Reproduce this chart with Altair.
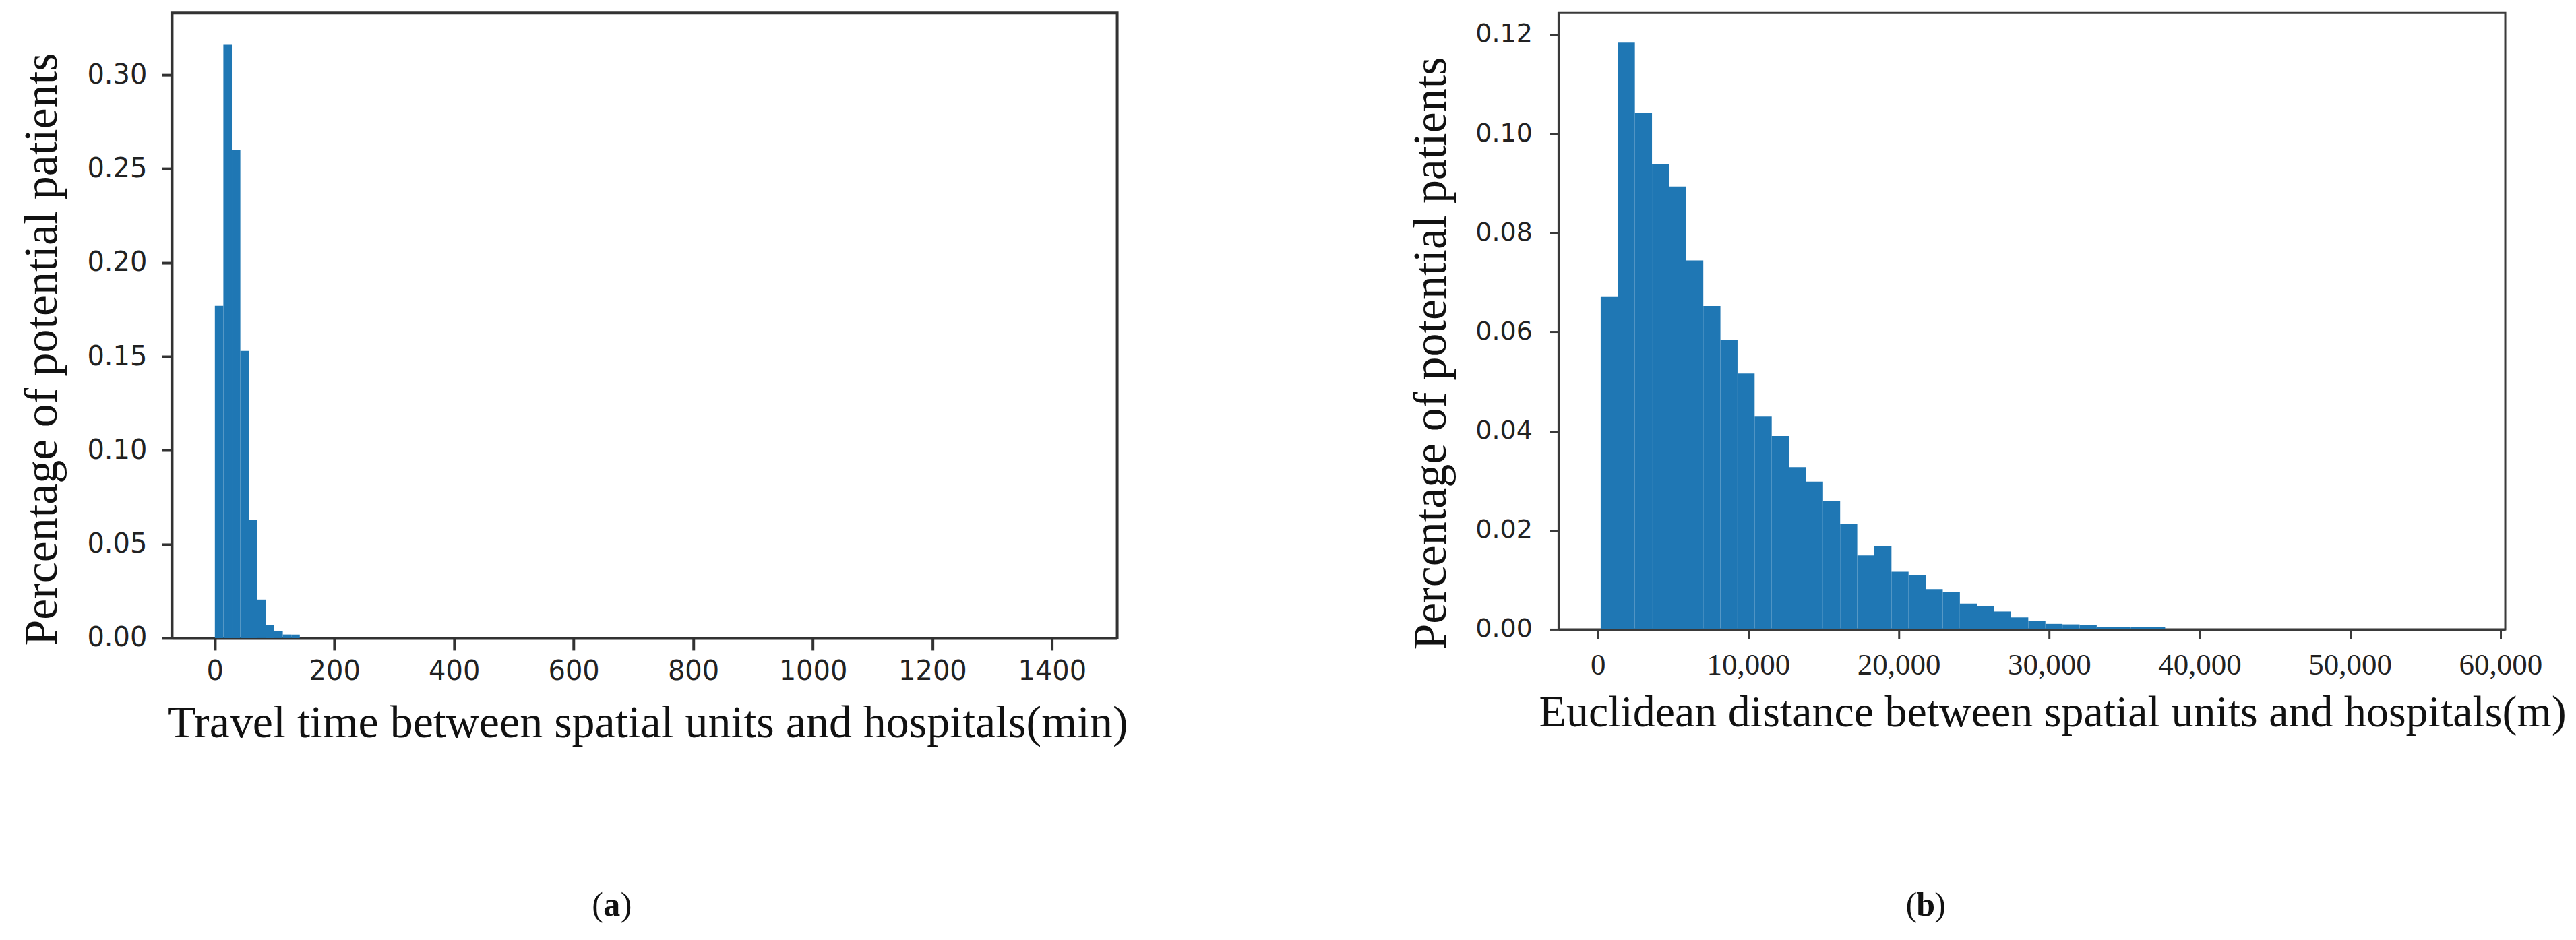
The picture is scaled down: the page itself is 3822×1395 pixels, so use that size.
import altair as alt
import pandas as pd

# ---------------- data ----------------
# (a) travel time histogram: bin edges (min) and share of potential patients
travel_edges = [0, 14.2, 28.4, 42.6, 56.8, 71.0, 85.2, 99.4, 113.6, 127.8, 142.0]
travel_share = [0.177, 0.316, 0.260, 0.153, 0.063, 0.0205, 0.0069, 0.0039, 0.0019, 0.0019]
travel_xticks = [0, 200, 400, 600, 800, 1000, 1200, 1400]
travel_yticks = [0.00, 0.05, 0.10, 0.15, 0.20, 0.25, 0.30]

# (b) euclidean distance histogram: bin edges (m) and share of potential patients
dist_edges = [190, 1327, 2464, 3601, 4738, 5875, 7012, 8149, 9286, 10423, 11560,
              12697, 13834, 14971, 16108, 17245, 18382, 19519, 20656, 21793, 22930,
              24067, 25204, 26341, 27478, 28615, 29752, 30889, 32026, 33163, 34300,
              35437, 36574, 37711]
dist_share = [0.0670, 0.1183, 0.1042, 0.0938, 0.0893, 0.0744, 0.0652, 0.0584, 0.0516,
              0.0429, 0.0390, 0.0327, 0.0298, 0.0259, 0.0212, 0.0149, 0.0167, 0.0116,
              0.0109, 0.0081, 0.0075, 0.0052, 0.0047, 0.0036, 0.0024, 0.0017, 0.0011,
              0.0010, 0.0009, 0.0005, 0.0005, 0.0004, 0.0004]
dist_xticks = [0, 10000, 20000, 30000, 40000, 50000, 60000]
dist_yticks = [0.00, 0.02, 0.04, 0.06, 0.08, 0.10, 0.12]

y_title = "Percentage of potential patients"
xa_title = "Travel time between spatial units and hospitals(min)"
xb_title = "Euclidean distance between spatial units and hospitals(m)"

# ---------------- styling ----------------
BLUE = "#1f77b4"
SERIF = "Liberation Serif"
SANS = "DejaVu Sans"
INK = "#111111"


def panel_label(letter, cx, cy):
    df = pd.DataFrame({"k": [0]})
    base = alt.Chart(df)
    lp = base.mark_text(text="(", align="right", baseline="middle", font=SERIF,
                        fontSize=50, color=INK).encode(x=alt.value(cx - 13), y=alt.value(cy))
    mid = base.mark_text(text=letter, align="center", baseline="middle", font=SERIF,
                         fontSize=50, fontWeight="bold", color=INK).encode(x=alt.value(cx), y=alt.value(cy))
    rp = base.mark_text(text=")", align="left", baseline="middle", font=SERIF,
                        fontSize=50, color=INK).encode(x=alt.value(cx + 13), y=alt.value(cy))
    return [lp, mid, rp]


# ---------------- panel (a) ----------------
df_a = pd.DataFrame({"start": travel_edges[:-1], "end": travel_edges[1:], "share": travel_share})
W_A, H_A = 1403, 928

bars_a = alt.Chart(df_a).mark_rect(color=BLUE).encode(
    x=alt.X("start:Q",
            scale=alt.Scale(domain=[-72, 1509], nice=False, zero=False),
            axis=alt.Axis(values=travel_xticks, format="d", title=xa_title, grid=False,
                          domainColor="#323232", domainWidth=4, tickColor="#323232",
                          tickWidth=4, tickSize=18, labelFont=SANS, labelFontSize=40,
                          labelColor="#222222", labelPadding=12, labelFlush=False,
                          titleFont=SERIF, titleFontSize=68, titleFontWeight="normal",
                          titleColor=INK, titlePadding=23, titleX=706)),
    x2="end:Q",
    y=alt.Y("share:Q",
            scale=alt.Scale(domain=[0, 0.333], nice=False, zero=True),
            axis=alt.Axis(values=travel_yticks, format=".2f", title=y_title, grid=False,
                          domainColor="#323232", domainWidth=4, tickColor="#323232",
                          tickWidth=4, tickSize=15, labelFont=SANS, labelFontSize=40,
                          labelColor="#222222", labelPadding=22, labelFlush=False,
                          titleFont=SERIF, titleFontSize=70, titleFontWeight="normal",
                          titleColor=INK, titlePadding=30, titleY=499)),
    y2=alt.datum(0),
)

left = alt.layer(bars_a, *panel_label("a", 653, 1325)).properties(
    width=W_A, height=H_A,
    view=alt.ViewBackground(stroke="#323232", strokeWidth=4),
)

# ---------------- panel (b) ----------------
df_b = pd.DataFrame({"start": dist_edges[:-1], "end": dist_edges[1:], "share": dist_share})
W_B, H_B = 1405, 915

bars_b = alt.Chart(df_b).mark_rect(color=BLUE).encode(
    x=alt.X("start:Q",
            scale=alt.Scale(domain=[-2611, 60320], nice=False, zero=False),
            axis=alt.Axis(values=dist_xticks, format=",d", title=xb_title, grid=False,
                          domainColor="#3a3a3a", domainWidth=3, tickColor="#3a3a3a",
                          tickWidth=3, tickSize=14, labelFont=SERIF, labelFontSize=45,
                          labelColor="#222222", labelPadding=17, labelFlush=False,
                          titleFont=SERIF, titleFontSize=66, titleFontWeight="normal",
                          titleColor=INK, titlePadding=16, titleX=733)),
    x2="end:Q",
    y=alt.Y("share:Q",
            scale=alt.Scale(domain=[0, 0.1243], nice=False, zero=True),
            axis=alt.Axis(values=dist_yticks, format=".2f", title=y_title, grid=False,
                          domainColor="#3a3a3a", domainWidth=3, tickColor="#3a3a3a",
                          tickWidth=3, tickSize=13, labelFont=SANS, labelFontSize=38,
                          labelColor="#222222", labelPadding=26, labelFlush=False,
                          titleFont=SERIF, titleFontSize=70, titleFontWeight="normal",
                          titleColor=INK, titlePadding=29, titleY=505)),
    y2=alt.datum(0),
)

right = alt.layer(bars_b, *panel_label("b", 545, 1325)).properties(
    width=W_B, height=H_B,
    view=alt.ViewBackground(stroke="#3a3a3a", strokeWidth=3),
)

chart = alt.hconcat(left, right, spacing=655, bounds="flush").properties(
    padding={"left": 17, "top": 9, "right": 5, "bottom": 5},
    background="white",
).configure_view(stroke=None)

chart.save("out.html", embed_options={"renderer": "svg", "actions": False})
